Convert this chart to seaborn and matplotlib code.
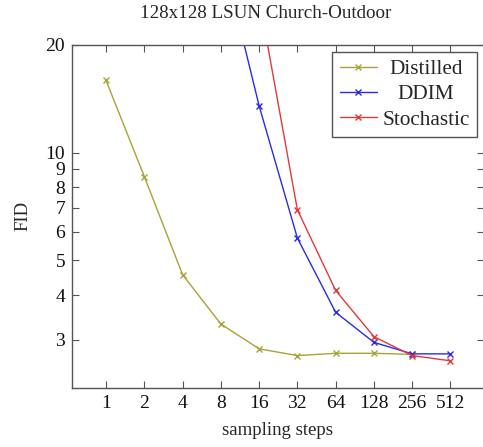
import pandas as pd
import matplotlib
matplotlib.use("Agg")
import matplotlib.pyplot as plt
import matplotlib.ticker as mticker
import seaborn as sns

steps_distilled = [1, 2, 4, 8, 16, 32, 64, 128, 256]
fid_distilled = [15.9, 8.57, 4.56, 3.32, 2.83, 2.71, 2.75, 2.75, 2.73]

steps_ddim = [8, 16, 32, 64, 128, 256, 512]
fid_ddim = [37.0, 13.5, 5.77, 3.58, 2.95, 2.74, 2.74]

steps_stoch = [16, 32, 64, 128, 256, 512]
fid_stoch = [27.0, 6.92, 4.12, 3.06, 2.71, 2.62]

x_ticks = [1, 2, 4, 8, 16, 32, 64, 128, 256, 512]
y_ticks = [3, 4, 5, 6, 7, 8, 9, 10, 20]

df = pd.concat([
    pd.DataFrame({"steps": steps_distilled, "fid": fid_distilled, "method": "Distilled"}),
    pd.DataFrame({"steps": steps_ddim, "fid": fid_ddim, "method": "DDIM"}),
    pd.DataFrame({"steps": steps_stoch, "fid": fid_stoch, "method": "Stochastic"}),
])

sns.set_style("white")
plt.rcParams["font.family"] = ["Liberation Serif", "DejaVu Serif"]

fig = plt.figure(figsize=(4.83, 4.47), dpi=100)
ax = fig.add_axes([72 / 483, 1 - 388 / 447, (484 - 72) / 483, (388 - 44.7) / 447])

palette = {"Distilled": "#a9a238", "DDIM": "#2a2aee", "Stochastic": "#e03a3a"}
for name in ["Distilled", "DDIM", "Stochastic"]:
    sub = df[df["method"] == name]
    sns.lineplot(data=sub, x="steps", y="fid", ax=ax, color=palette[name], label=name,
                 marker="x", markersize=5, markeredgewidth=1.0,
                 markeredgecolor=palette[name], linewidth=1.0, sort=False)

ax.set_xscale("log", base=2)
ax.set_yscale("log")
ax.set_xlim(0.54, 940)
ax.set_ylim(2.2, 20)

ax.xaxis.set_major_locator(mticker.FixedLocator(x_ticks))
ax.xaxis.set_major_formatter(mticker.FixedFormatter([str(v) for v in x_ticks]))
ax.xaxis.set_minor_locator(mticker.NullLocator())
ax.yaxis.set_major_locator(mticker.FixedLocator(y_ticks))
ax.yaxis.set_major_formatter(mticker.FixedFormatter([str(v) for v in y_ticks]))
ax.yaxis.set_minor_locator(mticker.NullLocator())

ax.tick_params(direction="in", length=5, width=0.8, color="#555555", labelsize=14,
               top=True, right=True, bottom=True, left=True, pad=5, labelcolor="#111111")
for s in ax.spines.values():
    s.set_color("#555555")
    s.set_linewidth(1.0)

ax.set_xlabel("sampling steps", fontsize=13.5, labelpad=7)
ax.set_ylabel("FID", fontsize=13.5, labelpad=10)
ax.set_title("128x128 LSUN Church-Outdoor", fontsize=13.7, pad=19, x=(266 - 72) / 412)

leg = ax.legend(loc="upper right", bbox_to_anchor=(0.983, 0.979), borderaxespad=0,
                fontsize=15.3, frameon=True, fancybox=False, edgecolor="#555555",
                framealpha=1, handlelength=1.75, handletextpad=0.25, borderpad=0.35,
                labelspacing=0.25)
leg.get_frame().set_linewidth(1.0)

# centre the legend labels inside their column, pgfplots style
fig.canvas.draw()
renderer = fig.canvas.get_renderer()
widths = [t.get_window_extent(renderer).width for t in leg.get_texts()]
wmax = max(widths)
for t, w in zip(leg.get_texts(), widths):
    t.set_x((wmax - w) / 2)

fig.savefig("out.png", dpi=100)
